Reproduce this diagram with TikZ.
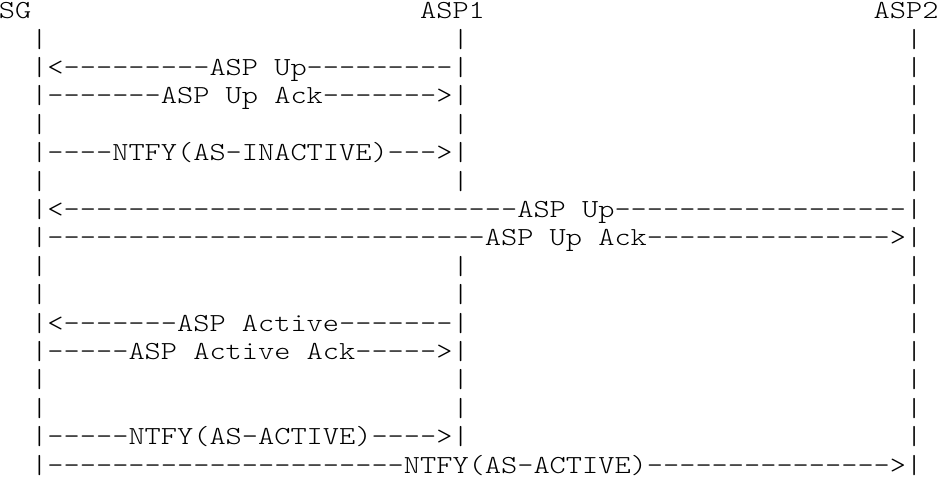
\documentclass[tikz,border=0pt]{standalone}
\newcommand{\mytt}{\fontsize{26}{28}\fontseries{l}\ttfamily}
\newcommand{\colW}{16.2}
\newcommand{\xorig}{7}
\newcommand{\yorig}{18.7}
\newcommand{\rowH}{28.4}
\tikzset{
  ch/.style={inner sep=0pt, outer sep=0pt, anchor=base, font=\mytt, xscale=1.187, text=black},
  word/.style={ch, anchor=base west},
}
% single character at (row, col)
\newcommand{\putch}[3]{\node[ch] (r#1c#2) at ({\xorig+\colW*#2},{\yorig+\rowH*#1}) {#3};}
% word starting at (row, col)
\newcommand{\putword}[3]{\node[word] (w#1c#2) at ({\xorig+\colW*#2-\colW/2},{\yorig+\rowH*#1}) {#3};}
% run of dashes on row from col to col
\newcommand{\putdash}[3]{\foreach \k in {#2,...,#3} {\node[ch] (d#1c\k) at ({\xorig+\colW*\k},{\yorig+\rowH*#1}) {-};}}
\begin{document}
\begin{tikzpicture}[x=1pt,y=-1pt]
\fill[white] (0,0) rectangle (938,487);
\useasboundingbox (0,0) rectangle (938,487);
% header
\putword{0}{0}{SG}
\putword{0}{26}{ASP1}
\putword{0}{54}{ASP2}
% lifeline bars
\foreach \r in {1,...,16} {\node[ch] (sg\r) at ({\xorig+\colW*2},{\yorig+\rowH*\r}) {|};}
\foreach \r in {1,...,16} {\node[ch] (asptwo\r) at ({\xorig+\colW*56},{\yorig+\rowH*\r}) {|};}
\foreach \r in {1,2,3,4,5,6,9,10,11,12,13,14,15} {\node[ch] (aspone\r) at ({\xorig+\colW*28},{\yorig+\rowH*\r}) {|};}
% row 2
\putch{2}{3}{<}\putdash{2}{4}{12}\putword{2}{13}{ASP Up}\putdash{2}{19}{27}
% row 3
\putdash{3}{3}{9}\putword{3}{10}{ASP Up Ack}\putdash{3}{20}{26}\putch{3}{27}{>}
% row 5
\putdash{5}{3}{6}\putword{5}{7}{NTFY(AS-INACTIVE)}\putdash{5}{24}{26}\putch{5}{27}{>}
% row 7
\putch{7}{3}{<}\putdash{7}{4}{31}\putword{7}{32}{ASP Up}\putdash{7}{38}{55}
% row 8
\putdash{8}{3}{29}\putword{8}{30}{ASP Up Ack}\putdash{8}{40}{54}\putch{8}{55}{>}
% row 11
\putch{11}{3}{<}\putdash{11}{4}{10}\putword{11}{11}{ASP Active}\putdash{11}{21}{27}
% row 12
\putdash{12}{3}{7}\putword{12}{8}{ASP Active Ack}\putdash{12}{22}{26}\putch{12}{27}{>}
% row 15
\putdash{15}{3}{7}\putword{15}{8}{NTFY(AS-ACTIVE)}\putdash{15}{23}{26}\putch{15}{27}{>}
% row 16
\putdash{16}{3}{24}\putword{16}{25}{NTFY(AS-ACTIVE)}\putdash{16}{40}{54}\putch{16}{55}{>}
\end{tikzpicture}
\end{document}
